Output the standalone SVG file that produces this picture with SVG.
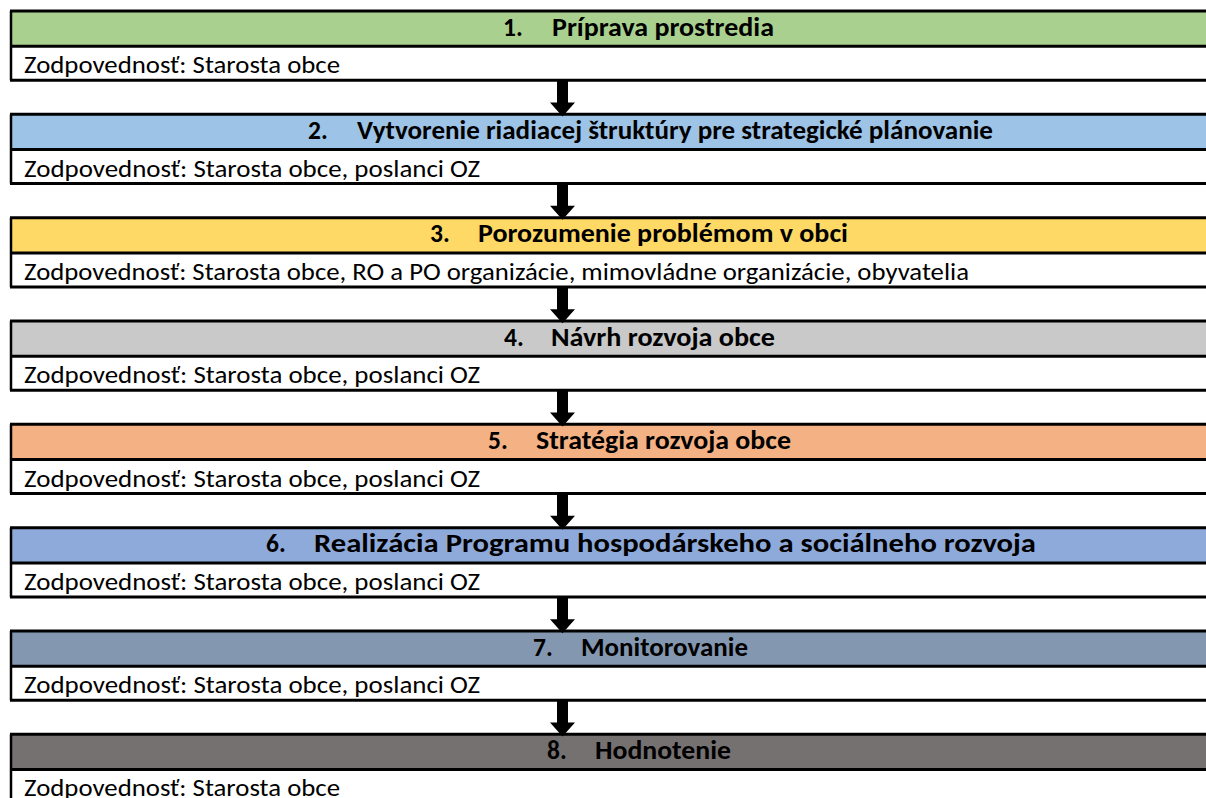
<svg xmlns="http://www.w3.org/2000/svg" width="1206" height="798" viewBox="0 0 1206 798">
<style>
  .hd { font-family: Carlito, Calibri, Lato, "Liberation Sans", sans-serif; font-size: 25.5px; font-weight: bold; fill: #000; }
  .bd { font-family: Carlito, Calibri, Lato, "Liberation Sans", sans-serif; font-size: 25.5px; fill: #000; }
  .ln { stroke: #000; stroke-width: 3; fill: none; }
  .lv { stroke: #000; stroke-width: 2.5; fill: none; }
  .ar { fill: #000; }
</style>
<defs>
  <path id="arrow" d="M -5.5 0 L 5.5 0 L 5.5 22 L 12.5 22 L 0 36 L -12.5 22 L -5.5 22 Z"/>
</defs>
<rect x="0" y="0" width="1206" height="798" fill="#fff"/>

<g id="node1">
  <rect x="11" y="11" width="1195" height="35.3" fill="#A9D08E"/>
  <line class="ln" x1="10" y1="11" x2="1206" y2="11"/>
  <line class="ln" x1="10" y1="46.3" x2="1206" y2="46.3"/>
  <line class="ln" x1="10" y1="80.3" x2="1206" y2="80.3"/>
  <line class="lv" x1="11" y1="11" x2="11" y2="80.3"/>
  <text class="hd" x="503" y="35.5">1.</text>
  <text class="hd" x="552" y="35.5" textLength="222" lengthAdjust="spacingAndGlyphs">Príprava prostredia</text>
  <text class="bd" x="24" y="73.3" textLength="316" lengthAdjust="spacingAndGlyphs">Zodpovednosť: Starosta obce</text>
</g>

<g id="node2">
  <rect x="11" y="114.3" width="1195" height="35.3" fill="#9DC3E6"/>
  <line class="ln" x1="10" y1="114.3" x2="1206" y2="114.3"/>
  <line class="ln" x1="10" y1="149.6" x2="1206" y2="149.6"/>
  <line class="ln" x1="10" y1="183.6" x2="1206" y2="183.6"/>
  <line class="lv" x1="11" y1="114.3" x2="11" y2="183.6"/>
  <text class="hd" x="308" y="138.8">2.</text>
  <text class="hd" x="357" y="138.8" textLength="636" lengthAdjust="spacingAndGlyphs">Vytvorenie riadiacej štruktúry pre strategické plánovanie</text>
  <text class="bd" x="24" y="176.6" textLength="456" lengthAdjust="spacingAndGlyphs">Zodpovednosť: Starosta obce, poslanci OZ</text>
</g>

<g id="node3">
  <rect x="11" y="217.7" width="1195" height="35.3" fill="#FFD966"/>
  <line class="ln" x1="10" y1="217.7" x2="1206" y2="217.7"/>
  <line class="ln" x1="10" y1="253" x2="1206" y2="253"/>
  <line class="ln" x1="10" y1="287" x2="1206" y2="287"/>
  <line class="lv" x1="11" y1="217.7" x2="11" y2="287"/>
  <text class="hd" x="430" y="242.2">3.</text>
  <text class="hd" x="478" y="242.2" textLength="370" lengthAdjust="spacingAndGlyphs">Porozumenie problémom v obci</text>
  <text class="bd" x="24" y="280" textLength="945" lengthAdjust="spacingAndGlyphs">Zodpovednosť: Starosta obce, RO a PO organizácie, mimovládne organizácie, obyvatelia</text>
</g>

<g id="node4">
  <rect x="11" y="321" width="1195" height="35.3" fill="#C9C9C9"/>
  <line class="ln" x1="10" y1="321" x2="1206" y2="321"/>
  <line class="ln" x1="10" y1="356.3" x2="1206" y2="356.3"/>
  <line class="ln" x1="10" y1="390.3" x2="1206" y2="390.3"/>
  <line class="lv" x1="11" y1="321" x2="11" y2="390.3"/>
  <text class="hd" x="504" y="345.5">4.</text>
  <text class="hd" x="551" y="345.5" textLength="224" lengthAdjust="spacingAndGlyphs">Návrh rozvoja obce</text>
  <text class="bd" x="24" y="383.3" textLength="456" lengthAdjust="spacingAndGlyphs">Zodpovednosť: Starosta obce, poslanci OZ</text>
</g>

<g id="node5">
  <rect x="11" y="424.3" width="1195" height="35.3" fill="#F4B183"/>
  <line class="ln" x1="10" y1="424.3" x2="1206" y2="424.3"/>
  <line class="ln" x1="10" y1="459.6" x2="1206" y2="459.6"/>
  <line class="ln" x1="10" y1="493.6" x2="1206" y2="493.6"/>
  <line class="lv" x1="11" y1="424.3" x2="11" y2="493.6"/>
  <text class="hd" x="488" y="448.8">5.</text>
  <text class="hd" x="536" y="448.8" textLength="255" lengthAdjust="spacingAndGlyphs">Stratégia rozvoja obce</text>
  <text class="bd" x="24" y="486.6" textLength="456" lengthAdjust="spacingAndGlyphs">Zodpovednosť: Starosta obce, poslanci OZ</text>
</g>

<g id="node6">
  <rect x="11" y="527.7" width="1195" height="35.3" fill="#8EAADB"/>
  <line class="ln" x1="10" y1="527.7" x2="1206" y2="527.7"/>
  <line class="ln" x1="10" y1="563" x2="1206" y2="563"/>
  <line class="ln" x1="10" y1="597" x2="1206" y2="597"/>
  <line class="lv" x1="11" y1="527.7" x2="11" y2="597"/>
  <text class="hd" x="266" y="552.2">6.</text>
  <text class="hd" x="314" y="552.2" textLength="722" lengthAdjust="spacingAndGlyphs">Realizácia Programu hospodárskeho a sociálneho rozvoja</text>
  <text class="bd" x="24" y="590" textLength="456" lengthAdjust="spacingAndGlyphs">Zodpovednosť: Starosta obce, poslanci OZ</text>
</g>

<g id="node7">
  <rect x="11" y="631" width="1195" height="35.3" fill="#8497B0"/>
  <line class="ln" x1="10" y1="631" x2="1206" y2="631"/>
  <line class="ln" x1="10" y1="666.3" x2="1206" y2="666.3"/>
  <line class="ln" x1="10" y1="700.3" x2="1206" y2="700.3"/>
  <line class="lv" x1="11" y1="631" x2="11" y2="700.3"/>
  <text class="hd" x="533" y="655.5">7.</text>
  <text class="hd" x="581" y="655.5" textLength="167" lengthAdjust="spacingAndGlyphs">Monitorovanie</text>
  <text class="bd" x="24" y="693.3" textLength="456" lengthAdjust="spacingAndGlyphs">Zodpovednosť: Starosta obce, poslanci OZ</text>
</g>

<g id="node8">
  <rect x="11" y="734.3" width="1195" height="35.3" fill="#767171"/>
  <line class="ln" x1="10" y1="734.3" x2="1206" y2="734.3"/>
  <line class="ln" x1="10" y1="769.6" x2="1206" y2="769.6"/>
  <line class="lv" x1="11" y1="734.3" x2="11" y2="800"/>
  <text class="hd" x="547" y="758.8">8.</text>
  <text class="hd" x="595" y="758.8" textLength="136" lengthAdjust="spacingAndGlyphs">Hodnotenie</text>
  <text class="bd" x="24" y="795.5" textLength="316" lengthAdjust="spacingAndGlyphs">Zodpovednosť: Starosta obce</text>
</g>

<g id="connectors">
  <use href="#arrow" class="ar" x="562.5" y="80.5"/>
  <use href="#arrow" class="ar" x="562.5" y="183.8"/>
  <use href="#arrow" class="ar" x="562.5" y="287.2"/>
  <use href="#arrow" class="ar" x="562.5" y="390.5"/>
  <use href="#arrow" class="ar" x="562.5" y="493.8"/>
  <use href="#arrow" class="ar" x="562.5" y="597.2"/>
  <use href="#arrow" class="ar" x="562.5" y="700.5"/>
</g>
</svg>
